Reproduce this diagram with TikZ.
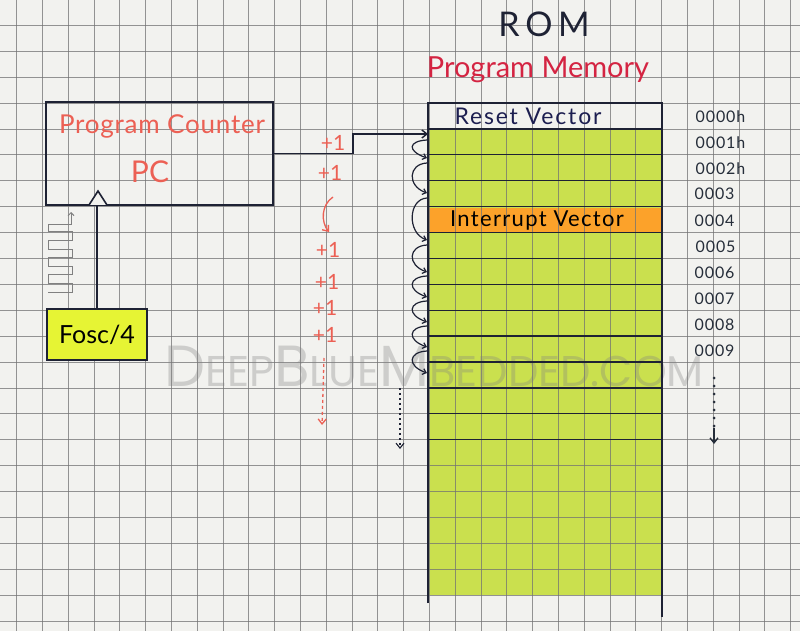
\documentclass[tikz,border=0pt]{standalone}
\usepackage{fontspec}
\setmainfont{Lato}
\newfontfamily\wmfont{Poppins}
\usetikzlibrary{arrows.meta}
\definecolor{paper}{RGB}{242,242,239}
\definecolor{gridc}{RGB}{115,115,115}
\definecolor{ink}{RGB}{30,34,52}
\definecolor{salmon}{RGB}{236,96,84}
\definecolor{crimson}{RGB}{212,36,66}
\definecolor{leaf}{RGB}{202,224,78}
\definecolor{amber}{RGB}{252,162,42}
\definecolor{lemon}{RGB}{230,244,52}
\definecolor{navy}{RGB}{28,30,80}
\definecolor{addr}{RGB}{38,46,58}
\newcommand{\wmtext}{{\fontsize{58}{58}\selectfont D}{\fontsize{43}{43}\selectfont EEP}{\fontsize{58}{58}\selectfont B}{\fontsize{43}{43}\selectfont LUE}{\fontsize{58}{58}\selectfont M}{\fontsize{43}{43}\selectfont BEDDED.COM}}
\begin{document}
\begin{tikzpicture}[x=1pt,y=-1pt,
  inkline/.style={draw=ink,line width=1.6pt},
  tip/.style={-{Straight Barb[length=5pt,width=8pt]}},
  loopar/.style={draw=ink,line width=1.2pt,-{Straight Barb[length=3.5pt,width=6pt]}},
  incr/.style={text=salmon,font=\fontsize{21}{21}\selectfont},
  address/.style={text=addr,font=\fontsize{16}{16}\selectfont\addfontfeature{LetterSpace=6},anchor=west},
]
\useasboundingbox (0,0) rectangle (800,631);
\fill[paper] (0,0) rectangle (800,631);
% memory shading
\fill[leaf] (429,129) rectangle (661,595);
\fill[amber] (429,208) rectangle (661,233);
% paper grid
\foreach \k in {0,...,30} \draw[gridc,line width=0.7pt,opacity=0.75] ({16.5+25.8*\k},0) -- ({16.5+25.8*\k},631);
\foreach \k in {0,...,24} \draw[gridc,line width=0.7pt,opacity=0.75] (0,{-0.6+25.9*\k}) -- (800,{-0.6+25.9*\k});
% watermark
\node[text=gray,opacity=0.32,font=\wmfont] (wm) at (434,366) {\wmtext};
% memory rows and frame
\foreach \k in {5,...,17} \draw[ink,line width=1.3pt] (428,{-0.6+25.9*\k}) -- (662,{-0.6+25.9*\k});
\draw[inkline] (428,603) -- (428,103) -- (662,103) -- (662,617);
\node[text=navy,font=\fontsize{23}{23}\selectfont\addfontfeature{LetterSpace=8}] (reset) at (528,116) {Reset Vector};
\node[text=black,font=\fontsize{22}{22}\selectfont\addfontfeature{LetterSpace=6}] (irq) at (537,221) {Interrupt Vector};
% titles
\node[text=ink,font=\fontsize{34}{34}\selectfont] (rom) at (544,24) {R\,O\,M};
\node[text=crimson,font=\fontsize{29}{29}\selectfont] (pm) at (538,70) {Program Memory};
% addresses
\node[address] (a0) at (692,117) {0000h};
\node[address] (a1) at (692,143) {0001h};
\node[address] (a2) at (692,169) {0002h};
\node[address] (a3) at (691,194) {0003};
\node[address] (a4) at (691,221) {0004};
\node[address] (a5) at (692,247) {0005};
\node[address] (a6) at (691,273) {0006};
\node[address] (a7) at (691,299) {0007};
\node[address] (a8) at (691,325) {0008};
\node[address] (a9) at (691,351) {0009};
\coordinate (ad0) at (714,378);
\coordinate (ad1) at (714,428);
\coordinate (ad2) at (714,444);
\draw[addr,line width=3pt,line cap=round,dash pattern=on 0pt off 8pt] (ad0) -- (ad1);
\draw[addr,line width=1.4pt,tip] (ad1) -- (ad2);
% program counter
\node[inkline,minimum width=227pt,minimum height=103pt,inner sep=0pt] (pc) at (159.5,153.5) {};
\node[text=salmon,font=\fontsize{26}{26}\selectfont\addfontfeature{LetterSpace=3}] (pclabel) at (162,126) {Program Counter};
\node[text=salmon,font=\fontsize{30}{30}\selectfont] (pcname) at (150,172) {PC};
% clock source
\node[inkline,fill=lemon,minimum width=100pt,minimum height=51pt,inner sep=0pt,font=\fontsize{25}{25}\selectfont] (fosc) at (97,334.5) {Fosc/4};
\coordinate (clk) at (97,205);
\draw[inkline] (fosc.north) -- (clk);
\draw[ink,line width=1.6pt,fill=paper] (89,205) -- (98,191) -- (107,205);
% clock waveform
\draw[gray,line width=1pt] (48,292) -- (72,292) -- (72,283.4) -- (48,283.4) -- (48,274.8) -- (72,274.8) -- (72,266.2) -- (48,266.2) -- (48,257.6) -- (72,257.6) -- (72,249) -- (48,249) -- (48,240.4) -- (72,240.4) -- (72,231.8) -- (48,231.8) -- (48,224) -- (72,224);
\coordinate (w0) at (71,224);
\coordinate (w1) at (71,212);
\draw[gray,line width=1pt,-{Straight Barb[length=3pt,width=6pt]}] (w0) -- (w1);
% PC to memory
\coordinate (m1) at (428,134);
\draw[ink,line width=1.4pt,tip] (pc.east) -| (353,134) -- (m1);
% increments
\node[incr] (i1) at (333,143) {+1};
\node[incr] (i2) at (330,173) {+1};
\node[incr] (i3) at (328,250) {+1};
\node[incr] (i4) at (327,282) {+1};
\node[incr] (i5) at (325,308) {+1};
\node[incr] (i6) at (325,335) {+1};
\coordinate (j0) at (333,197);
\coordinate (j1) at (329,232);
\draw[salmon,line width=1.3pt,tip] (j0) .. controls (321,205) and (321,222) .. (j1);
\coordinate (r0) at (324,358);
\coordinate (r1) at (322,425);
\draw[salmon,line width=1.3pt,dash pattern=on 3pt off 3pt,tip] (r0) -- (r1);
% loops along memory
\foreach \ya/\yb in {140/158,163/193,198/240,245/272,276/297,301/322,326/347,351/373}
  \draw[loopar] (427,\ya) .. controls (408,{\ya+1}) and (407,{\yb-7}) .. (427,\yb);
\coordinate (b0) at (400,388);
\coordinate (b1) at (400,449);
\draw[ink,line width=1.1pt,dash pattern=on 2pt off 3pt,tip] (b0) -- (b1);
\end{tikzpicture}
\end{document}
